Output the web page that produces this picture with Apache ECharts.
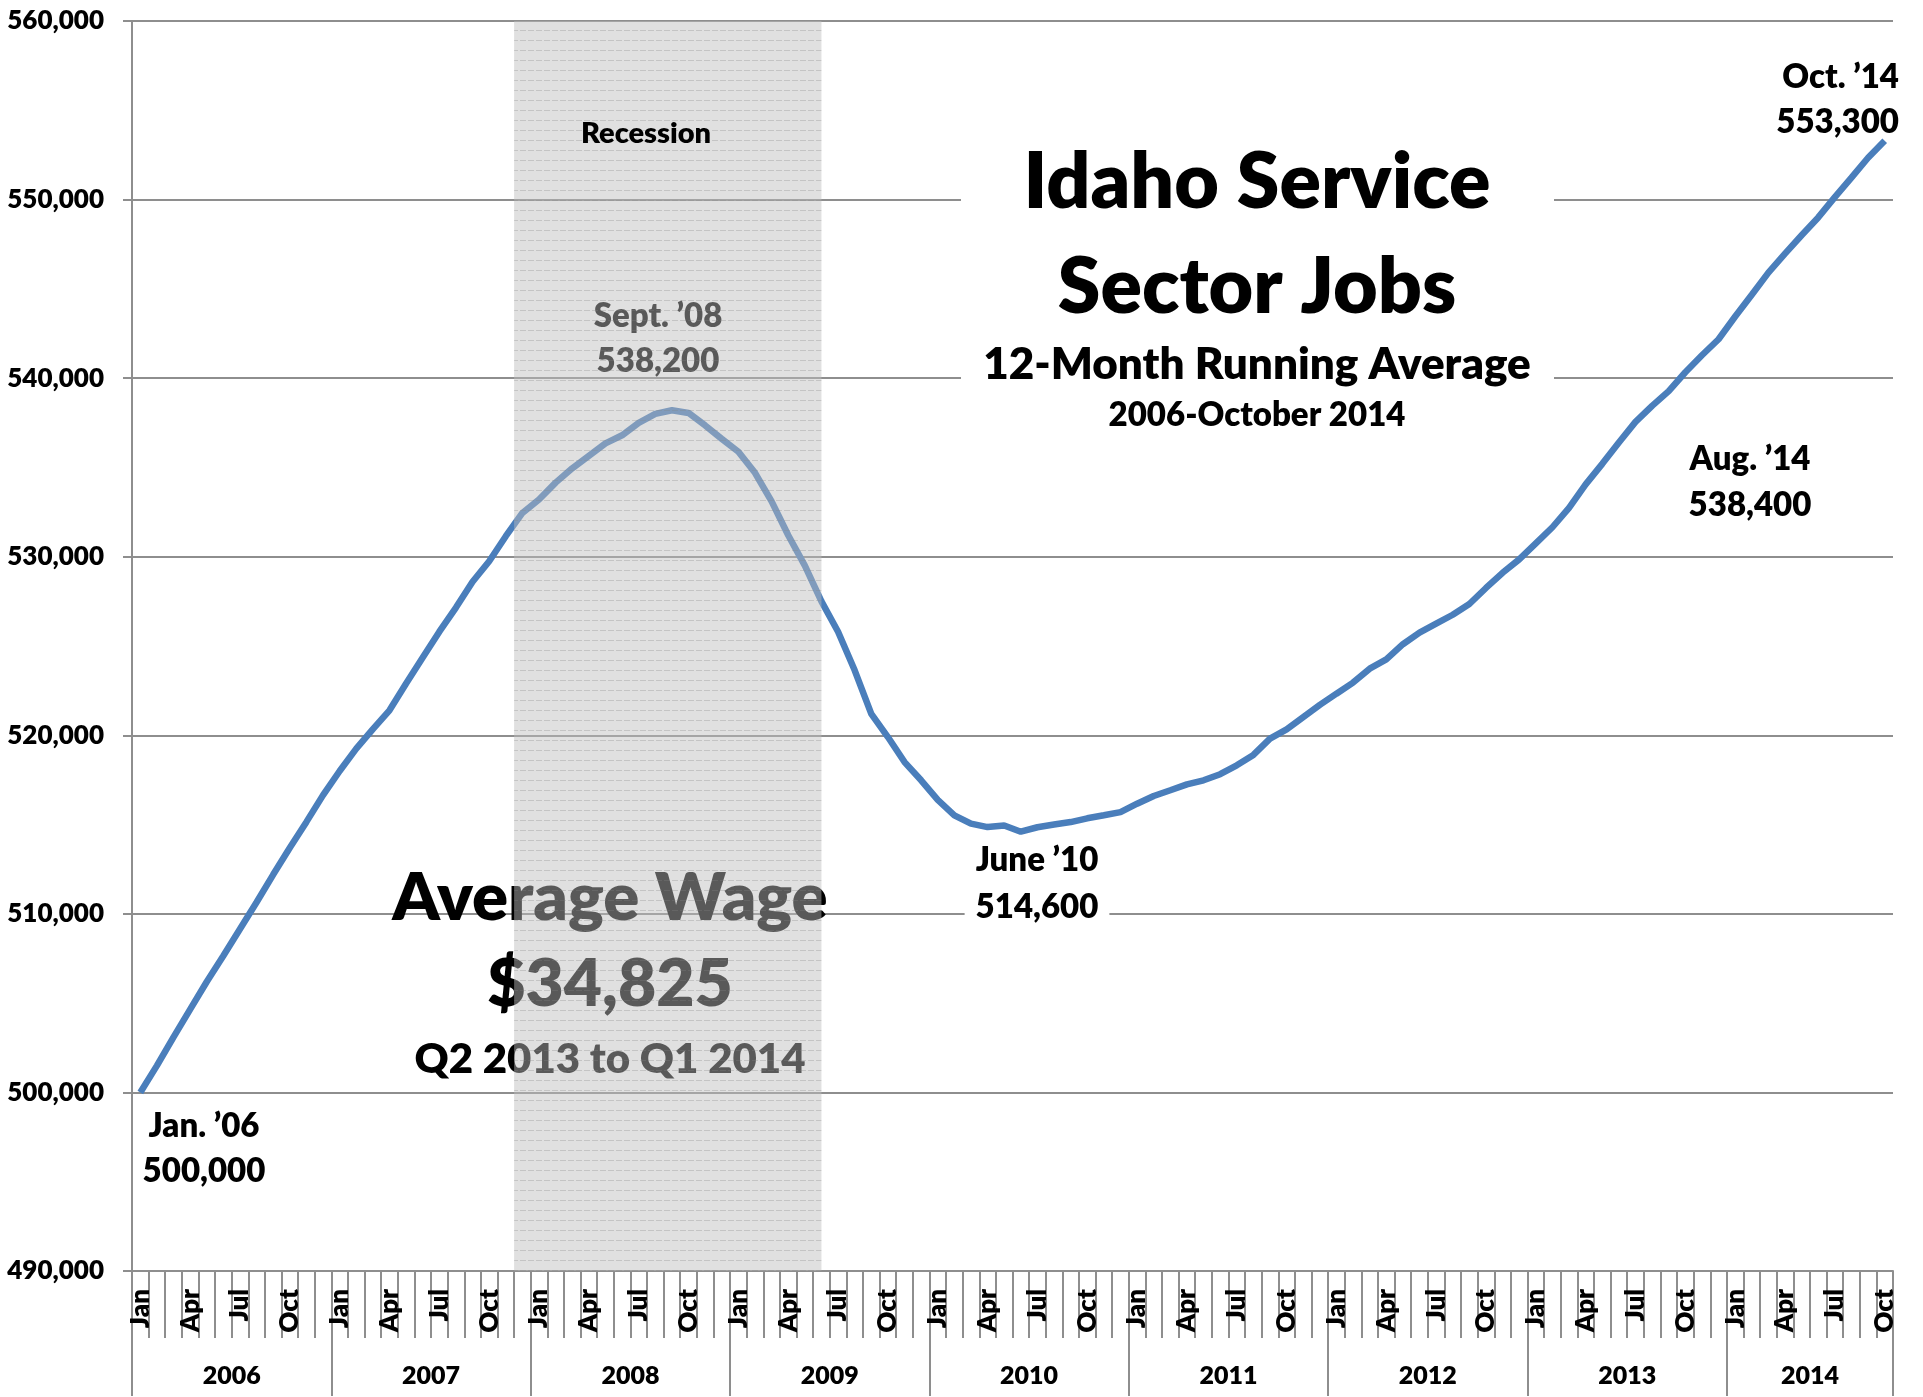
<!DOCTYPE html>
<html>
<head>
<meta charset="utf-8">
<title>Idaho Service Sector Jobs</title>
<script src="https://cdn.jsdelivr.net/npm/echarts@6/dist/echarts.min.js"></script>
<style>
  html, body { margin: 0; padding: 0; background: #fff; }
  #chart { width: 1923px; height: 1397px; }
</style>
</head>
<body>
<div id="chart"></div>
<script>
// 12-month running average of service sector jobs, Jan 2006 - Oct 2014
const years = [2006, 2007, 2008, 2009, 2010, 2011, 2012, 2013, 2014];
const monthNames = ['Jan', 'Feb', 'Mar', 'Apr', 'May', 'Jun', 'Jul', 'Aug', 'Sep', 'Oct', 'Nov', 'Dec'];

const jobs2006 = [500000, 501500, 503100, 504650, 506200, 507650, 509150, 510650, 512200, 513700, 515150, 516650];
const jobs2007 = [518000, 519250, 520350, 521400, 522900, 524350, 525800, 527150, 528600, 529750, 531150, 532450];
const jobs2008 = [533200, 534150, 534950, 535650, 536350, 536800, 537500, 538000, 538200, 538050, 537350, 536600];
const jobs2009 = [535880, 534700, 533100, 531200, 529500, 527500, 525800, 523640, 521200, 519900, 518500, 517480];
const jobs2010 = [516380, 515520, 515050, 514860, 514950, 514600, 514850, 515000, 515140, 515350, 515520, 515700];
const jobs2011 = [516170, 516600, 516920, 517250, 517480, 517820, 518320, 518900, 519810, 520330, 521020, 521700];
const jobs2012 = [522330, 522950, 523730, 524250, 525100, 525750, 526250, 526750, 527350, 528250, 529100, 529850];
const jobs2013 = [530750, 531650, 532740, 534050, 535200, 536400, 537550, 538450, 539270, 540330, 541280, 542180];
const jobs2014 = [543450, 544670, 545910, 546970, 548000, 549000, 550140, 551230, 552340, 553300];

// recession: from the start of Dec 2007 to mid June 2009
const recessionStart = 'Dec 2007';
const recessionEnd = 'Jun 2009';

const jobsByYear = [jobs2006, jobs2007, jobs2008, jobs2009, jobs2010, jobs2011, jobs2012, jobs2013, jobs2014];
const jobs = [].concat.apply([], jobsByYear);

const categories = [];
const yearStart = {};
const yearMid = {};
years.forEach((y, k) => {
  const n = jobsByYear[k].length;
  yearStart[categories.length] = true;
  yearMid[categories.length + Math.floor(n / 2)] = true;
  for (let m = 0; m < n; m++) categories.push(monthNames[m] + ' ' + y);
});

// light gray striped shading for the recession (drawn semi-transparent, on top)
const tile = document.createElement('canvas');
tile.width = 8; tile.height = 10;
const g = tile.getContext('2d');
g.fillStyle = 'rgba(190,190,190,0.47)';
g.fillRect(0, 0, 8, 10);
g.fillStyle = 'rgba(130,130,130,0.3)';
g.fillRect(0, 0, 6, 1);

const FONT = 'Lato';
const W = 800;
const GRAY = '#8e8e8e';

function label(x, y, text, size, opts) {
  opts = opts || {};
  const align = opts.align || 'center';
  const style = {
    text: text, font: W + ' ' + size + 'px ' + FONT, fill: '#000',
    align: align, verticalAlign: 'middle',
    textAlign: align, textVerticalAlign: 'middle',
    lineHeight: opts.lineHeight || Math.round(size * 1.36)
  };
  if (opts.bg) { style.backgroundColor = opts.bg; style.padding = [2, 11, 2, 11]; }
  return { type: 'text', x: x, y: y, z: opts.z || 5, style: style };
}

const chart = echarts.init(document.getElementById('chart'));
chart.setOption({
  animation: false,
  backgroundColor: '#fff',
  grid: { left: 132, right: 30, top: 21, bottom: 126 },
  xAxis: [
    {
      type: 'category', data: categories, boundaryGap: true, position: 'bottom',
      axisLine: { show: true, lineStyle: { color: GRAY, width: 2 } },
      axisTick: { show: true, interval: 0, length: 67, lineStyle: { color: GRAY, width: 2 } },
      axisLabel: {
        interval: 2, rotate: 90, margin: 18,
        fontFamily: FONT, fontWeight: W, fontSize: 26, color: '#000',
        formatter: v => v.split(' ')[0]
      },
      splitLine: { show: false }
    },
    {
      type: 'category', data: categories, boundaryGap: true, position: 'bottom',
      axisLine: { show: false },
      axisTick: { show: true, interval: i => !!yearStart[i], length: 125, lineStyle: { color: GRAY, width: 2 } },
      axisLabel: {
        interval: i => !!yearMid[i], margin: 92, padding: [0, 16.6, 0, 0],
        fontFamily: FONT, fontWeight: W, fontSize: 25, color: '#000',
        formatter: v => v.split(' ')[1]
      },
      splitLine: { show: false }
    },
    // hidden continuous twin of the month axis, used to place the recession band on month boundaries
    { type: 'value', min: 0, max: categories.length, show: false }
  ],
  yAxis: {
    type: 'value', min: 490000, max: 560000, interval: 10000,
    axisLine: { show: true, lineStyle: { color: GRAY, width: 2 } },
    axisTick: { show: true, length: 9, lineStyle: { color: GRAY, width: 2 } },
    axisLabel: {
      margin: 28, fontFamily: FONT, fontWeight: W, fontSize: 26, color: '#000',
      formatter: v => v.toLocaleString('en-US')
    },
    splitLine: { show: true, lineStyle: { color: GRAY, width: 2 } }
  },
  series: [
    {
      type: 'line',
      data: jobs,
      symbol: 'none',
      z: 2,
      lineStyle: { color: '#4a7ebb', width: 6.5 }
    },
    {
      type: 'line',
      xAxisIndex: 2,
      data: [],
      markArea: {
        z: 10,
        silent: true,
        itemStyle: { color: { image: tile, repeat: 'repeat' } },
        data: [[
          { xAxis: categories.indexOf(recessionStart) },
          { xAxis: categories.indexOf(recessionEnd) + 0.5 }
        ]]
      }
    }
  ],
  graphic: [
    // white box behind the chart title
    { type: 'rect', z: 3, shape: { x: 961, y: 118, width: 593, height: 322 }, style: { fill: '#fff' } },
    label(1257, 183, 'Idaho Service', 77),
    label(1257, 288, 'Sector Jobs', 77),
    label(1257, 365, '12-Month Running Average', 44),
    label(1257, 415, '2006-October 2014', 33),

    label(646, 134, 'Recession', 29, { z: 20 }),
    label(658, 339, 'Sept. \u201908\n538,200', 33, { lineHeight: 45 }),
    label(1899, 100, 'Oct. \u201914\n553,300', 33, { align: 'right', lineHeight: 45 }),
    label(1750, 482, 'Aug. \u201914\n538,400', 33, { lineHeight: 46 }),
    label(1037, 860, 'June \u201910', 33),
    label(1037, 907, '514,600', 33, { bg: '#fff' }),
    label(204, 1149, 'Jan. \u201906\n500,000', 33, { lineHeight: 45 }),

    label(610, 898, 'Average Wage', 67),
    label(610, 985, '$34,825', 66),
    label(610, 1059, 'Q2 2013 to Q1 2014', 42)
  ]
});
</script>
</body>
</html>
